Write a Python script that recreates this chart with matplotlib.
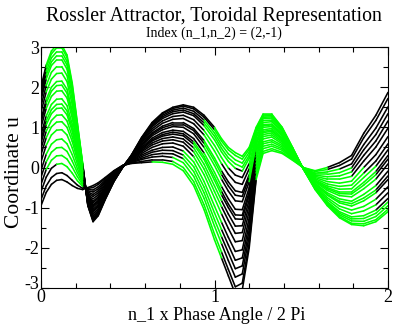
import numpy as np
import matplotlib
matplotlib.use('Agg')
import matplotlib.pyplot as plt
import matplotlib.transforms as mtransforms
from matplotlib.collections import LineCollection
from matplotlib.ticker import MultipleLocator

plt.rcParams['font.family'] = ['Liberation Serif', 'DejaVu Serif']
plt.rcParams['axes.unicode_minus'] = False

X_GRID = [0.00, 0.03, 0.06, 0.09, 0.12, 0.15, 0.18, 0.21, 0.24, 0.27,
          0.30, 0.33, 0.37, 0.42, 0.47, 0.52, 0.58, 0.64, 0.70, 0.76,
          0.82, 0.88, 0.94, 1.00, 1.04, 1.08, 1.12, 1.16, 1.20, 1.24,
          1.28, 1.33, 1.39, 1.45, 1.51, 1.58, 1.65, 1.72, 1.79, 1.86,
          1.93, 2.00]

# coordinate u of each traced loop, lowest left peak first
CURVE_00 = [-0.95, -0.62, -0.42, -0.32, -0.30, -0.36, -0.45, -0.52, -0.55, -0.50,
            -0.45, -0.38, -0.25, -0.08, 0.05, 0.10, 0.12, 0.14, 0.13, 0.08,
            -0.08, -0.45, -1.05, -1.80, -2.25, -2.70, -3.15, -3.05, -2.00, -0.30,
            0.35, 0.42, 0.35, 0.18, 0.00, -0.08, 0.00, 0.12, 0.30, 0.85,
            1.30, 1.87]
CURVE_01 = [-0.80, -0.46, -0.25, -0.15, -0.13, -0.20, -0.32, -0.44, -0.52, -0.52,
            -0.50, -0.42, -0.28, -0.09, 0.05, 0.11, 0.15, 0.19, 0.19, 0.15,
            0.00, -0.35, -0.93, -1.66, -2.10, -2.54, -2.97, -2.88, -1.88, -0.24,
            0.40, 0.47, 0.38, 0.20, 0.00, -0.10, -0.05, 0.05, 0.21, 0.74,
            1.17, 1.72]
CURVE_02 = [-0.60, -0.24, -0.02, 0.08, 0.10, 0.02, -0.14, -0.33, -0.47, -0.55,
            -0.56, -0.48, -0.32, -0.11, 0.04, 0.12, 0.20, 0.26, 0.28, 0.25,
            0.12, -0.22, -0.77, -1.46, -1.89, -2.32, -2.73, -2.65, -1.70, -0.14,
            0.47, 0.53, 0.43, 0.22, 0.00, -0.14, -0.11, -0.04, 0.09, 0.57,
            0.98, 1.51]
CURVE_03 = [-0.42, -0.05, 0.18, 0.29, 0.30, 0.21, 0.01, -0.23, -0.43, -0.58,
            -0.61, -0.53, -0.35, -0.13, 0.04, 0.14, 0.23, 0.32, 0.35, 0.34,
            0.22, -0.10, -0.63, -1.30, -1.72, -2.12, -2.52, -2.45, -1.55, -0.07,
            0.53, 0.58, 0.47, 0.24, 0.00, -0.17, -0.17, -0.13, -0.01, 0.44,
            0.82, 1.34]
CURVE_04 = [-0.24, 0.14, 0.38, 0.49, 0.50, 0.40, 0.16, -0.13, -0.39, -0.61,
            -0.67, -0.58, -0.38, -0.15, 0.04, 0.15, 0.27, 0.38, 0.43, 0.42,
            0.31, 0.02, -0.49, -1.13, -1.54, -1.93, -2.31, -2.25, -1.40, 0.01,
            0.59, 0.64, 0.51, 0.26, 0.00, -0.19, -0.23, -0.21, -0.11, 0.30,
            0.66, 1.16]
CURVE_05 = [-0.07, 0.33, 0.58, 0.69, 0.71, 0.59, 0.32, -0.03, -0.36, -0.64,
            -0.72, -0.63, -0.42, -0.16, 0.04, 0.16, 0.31, 0.43, 0.50, 0.51,
            0.41, 0.14, -0.35, -0.96, -1.36, -1.74, -2.09, -2.05, -1.25, 0.09,
            0.64, 0.69, 0.55, 0.28, -0.01, -0.22, -0.29, -0.29, -0.22, 0.16,
            0.51, 0.98]
CURVE_06 = [0.14, 0.55, 0.81, 0.93, 0.94, 0.81, 0.49, 0.08, -0.31, -0.67,
            -0.78, -0.68, -0.45, -0.18, 0.03, 0.17, 0.35, 0.50, 0.59, 0.61,
            0.53, 0.27, -0.18, -0.76, -1.15, -1.52, -1.85, -1.82, -1.08, 0.18,
            0.71, 0.76, 0.59, 0.30, -0.01, -0.25, -0.35, -0.39, -0.34, 0.00,
            0.32, 0.77]
CURVE_07 = [0.32, 0.74, 1.01, 1.13, 1.14, 1.00, 0.65, 0.18, -0.27, -0.69,
            -0.84, -0.73, -0.49, -0.20, 0.03, 0.19, 0.39, 0.56, 0.66, 0.69,
            0.63, 0.39, -0.04, -0.60, -0.97, -1.32, -1.64, -1.62, -0.93, 0.26,
            0.77, 0.81, 0.63, 0.32, -0.01, -0.28, -0.41, -0.47, -0.44, -0.14,
            0.16, 0.59]
CURVE_08 = [0.47, 0.90, 1.17, 1.30, 1.31, 1.16, 0.77, 0.26, -0.24, -0.72,
            -0.88, -0.77, -0.51, -0.21, 0.03, 0.20, 0.42, 0.61, 0.72, 0.76,
            0.71, 0.49, 0.08, -0.46, -0.82, -1.16, -1.46, -1.45, -0.80, 0.32,
            0.82, 0.86, 0.66, 0.33, -0.01, -0.31, -0.46, -0.54, -0.53, -0.25,
            0.03, 0.44]
CURVE_09 = [0.61, 1.06, 1.34, 1.47, 1.48, 1.31, 0.90, 0.34, -0.21, -0.74,
            -0.93, -0.82, -0.54, -0.22, 0.02, 0.21, 0.45, 0.66, 0.78, 0.83,
            0.79, 0.58, 0.20, -0.32, -0.68, -1.00, -1.28, -1.29, -0.68, 0.39,
            0.87, 0.90, 0.70, 0.35, -0.01, -0.33, -0.50, -0.61, -0.61, -0.37,
            -0.10, 0.30]
CURVE_10 = [0.70, 1.16, 1.44, 1.57, 1.58, 1.41, 0.98, 0.39, -0.19, -0.75,
            -0.95, -0.84, -0.56, -0.23, 0.02, 0.21, 0.47, 0.69, 0.82, 0.88,
            0.84, 0.64, 0.27, -0.23, -0.59, -0.91, -1.18, -1.19, -0.60, 0.43,
            0.90, 0.93, 0.71, 0.36, -0.01, -0.34, -0.53, -0.65, -0.66, -0.44,
            -0.18, 0.21]
CURVE_11 = [0.82, 1.28, 1.57, 1.70, 1.71, 1.54, 1.08, 0.45, -0.16, -0.77,
            -0.99, -0.87, -0.58, -0.24, 0.02, 0.22, 0.50, 0.73, 0.87, 0.93,
            0.90, 0.72, 0.36, -0.12, -0.47, -0.78, -1.04, -1.05, -0.50, 0.48,
            0.94, 0.97, 0.74, 0.37, -0.01, -0.36, -0.57, -0.70, -0.73, -0.53,
            -0.29, 0.09]
CURVE_12 = [1.00, 1.47, 1.77, 1.90, 1.91, 1.73, 1.23, 0.55, -0.12, -0.80,
            -1.04, -0.92, -0.61, -0.26, 0.02, 0.23, 0.54, 0.79, 0.94, 1.02,
            1.00, 0.84, 0.50, 0.05, -0.29, -0.59, -0.83, -0.85, -0.35, 0.56,
            1.00, 1.02, 0.78, 0.39, -0.01, -0.39, -0.63, -0.78, -0.84, -0.67,
            -0.45, -0.09]
CURVE_13 = [1.12, 1.60, 1.90, 2.04, 2.05, 1.85, 1.34, 0.61, -0.10, -0.82,
            -1.08, -0.95, -0.64, -0.27, 0.02, 0.24, 0.56, 0.83, 0.99, 1.07,
            1.07, 0.92, 0.60, 0.16, -0.17, -0.46, -0.69, -0.72, -0.25, 0.61,
            1.04, 1.06, 0.81, 0.40, -0.01, -0.41, -0.67, -0.84, -0.90, -0.76,
            -0.56, -0.21]
CURVE_14 = [1.20, 1.69, 2.00, 2.14, 2.15, 1.95, 1.41, 0.66, -0.08, -0.83,
            -1.11, -0.98, -0.65, -0.28, 0.01, 0.25, 0.58, 0.86, 1.03, 1.12,
            1.12, 0.97, 0.67, 0.24, -0.08, -0.36, -0.58, -0.62, -0.18, 0.65,
            1.07, 1.08, 0.82, 0.41, -0.01, -0.42, -0.69, -0.88, -0.96, -0.83,
            -0.63, -0.30]
CURVE_15 = [1.38, 1.88, 2.20, 2.34, 2.35, 2.14, 1.56, 0.76, -0.04, -0.86,
            -1.16, -1.03, -0.68, -0.29, 0.01, 0.26, 0.62, 0.91, 1.10, 1.20,
            1.22, 1.09, 0.81, 0.41, 0.10, -0.17, -0.37, -0.42, -0.03, 0.73,
            1.12, 1.14, 0.86, 0.43, -0.02, -0.45, -0.75, -0.96, -1.06, -0.97,
            -0.79, -0.48]
CURVE_16 = [1.53, 2.04, 2.37, 2.51, 2.51, 2.29, 1.69, 0.84, 0.00, -0.88,
            -1.21, -1.07, -0.71, -0.31, 0.01, 0.27, 0.65, 0.96, 1.16, 1.27,
            1.30, 1.19, 0.92, 0.55, 0.25, -0.01, -0.19, -0.25, 0.10, 0.79,
            1.17, 1.18, 0.90, 0.45, -0.02, -0.47, -0.80, -1.03, -1.15, -1.08,
            -0.93, -0.63]
CURVE_17 = [1.68, 2.20, 2.54, 2.68, 2.68, 2.45, 1.82, 0.92, 0.03, -0.90,
            -1.25, -1.11, -0.74, -0.32, 0.01, 0.28, 0.68, 1.01, 1.22, 1.34,
            1.38, 1.29, 1.04, 0.69, 0.39, 0.15, -0.02, -0.09, 0.23, 0.86,
            1.22, 1.23, 0.93, 0.47, -0.02, -0.50, -0.85, -1.10, -1.23, -1.20,
            -1.06, -0.77]
CURVE_18 = [1.76, 2.30, 2.63, 2.78, 2.78, 2.55, 1.90, 0.97, 0.05, -0.91,
            -1.28, -1.13, -0.76, -0.33, 0.00, 0.28, 0.70, 1.04, 1.26, 1.39,
            1.43, 1.34, 1.11, 0.78, 0.48, 0.24, 0.09, 0.01, 0.30, 0.90,
            1.25, 1.26, 0.95, 0.47, -0.02, -0.51, -0.87, -1.14, -1.28, -1.27,
            -1.14, -0.86]
CURVE_19 = [1.85, 2.39, 2.73, 2.88, 2.88, 2.64, 1.97, 1.02, 0.07, -0.93,
            -1.31, -1.16, -0.77, -0.34, 0.00, 0.29, 0.72, 1.07, 1.30, 1.43,
            1.48, 1.40, 1.18, 0.86, 0.57, 0.34, 0.19, 0.11, 0.38, 0.94,
            1.28, 1.29, 0.97, 0.48, -0.02, -0.53, -0.90, -1.18, -1.33, -1.34,
            -1.22, -0.95]
CURVE_20 = [1.94, 2.49, 2.83, 2.98, 2.98, 2.74, 2.05, 1.07, 0.09, -0.94,
            -1.33, -1.18, -0.79, -0.35, 0.00, 0.30, 0.74, 1.10, 1.34, 1.47,
            1.53, 1.46, 1.25, 0.94, 0.66, 0.44, 0.30, 0.21, 0.45, 0.97,
            1.31, 1.31, 0.99, 0.49, -0.02, -0.54, -0.93, -1.22, -1.39, -1.40,
            -1.30, -1.04]
CURVE_21 = [2.00, 2.55, 2.90, 3.05, 3.05, 2.80, 2.10, 1.10, 0.10, -0.95,
            -1.35, -1.20, -0.80, -0.35, 0.00, 0.30, 0.75, 1.12, 1.36, 1.50,
            1.56, 1.50, 1.30, 1.00, 0.72, 0.50, 0.37, 0.28, 0.50, 1.00,
            1.33, 1.33, 1.00, 0.50, -0.02, -0.55, -0.95, -1.25, -1.42, -1.45,
            -1.35, -1.10]

CURVES = [CURVE_00, CURVE_01, CURVE_02, CURVE_03, CURVE_04, CURVE_05, CURVE_06,
          CURVE_07, CURVE_08, CURVE_09, CURVE_10, CURVE_11, CURVE_12, CURVE_13,
          CURVE_14, CURVE_15, CURVE_16, CURVE_17, CURVE_18, CURVE_19, CURVE_20,
          CURVE_21]

GREEN = '#00ff00'
LINE_W = 1.15

# lower edge of the black hump before x = 1 (green below it)
HUMP_EDGE_X = [0.60, 0.82, 0.92, 0.975, 1.03]
HUMP_EDGE_Y = [0.12, 0.20, 0.55, 1.12, 1.60]


def segment_is_green(peak_a, xm, ym):
    """colour of a piece of loop, by where it sits in the (phase, u) plane"""
    if xm < 0.235:
        return peak_a > 0.05 and xm > 0.015 and (ym > 0.05 or xm > 0.1)
    if xm < 0.6:
        return False
    if xm < 1.03:
        return ym < np.interp(xm, HUMP_EDGE_X, HUMP_EDGE_Y)
    if xm < 1.25:
        return ym > 0.0
    if xm < 1.62:
        return True
    if ym > -0.05:
        return False
    if xm > 1.93 and ym > -1.0:
        return False
    return True


fig = plt.figure(figsize=(3.93, 3.24), dpi=100)
ax = fig.add_axes([41 / 393, 1 - 288 / 324, 347 / 393, 241 / 324])

x = np.array(X_GRID)
black_segs, green_segs = [], []
for curve in CURVES:
    y = np.array(curve)
    peak_a = y[:8].max()
    for i in range(len(x) - 1):
        seg = [(x[i], y[i]), (x[i + 1], y[i + 1])]
        xm = (x[i] + x[i + 1]) / 2
        ym = (y[i] + y[i + 1]) / 2
        if segment_is_green(peak_a, xm, ym):
            green_segs.append(seg)
        else:
            black_segs.append(seg)

ax.add_collection(LineCollection(black_segs, colors='black', linewidths=LINE_W,
                                 capstyle='round'))
ax.add_collection(LineCollection(green_segs, colors=GREEN, linewidths=LINE_W,
                                 capstyle='round'))

ax.set_xlim(0, 2)
ax.set_ylim(-3, 3)
ax.xaxis.set_major_locator(MultipleLocator(1))
ax.xaxis.set_minor_locator(MultipleLocator(0.2))
ax.yaxis.set_major_locator(MultipleLocator(1))
ax.yaxis.set_minor_locator(MultipleLocator(0.5))
ax.tick_params(which='both', direction='in', top=True, right=True,
               width=0.8, labelsize=13, pad=1)
ax.tick_params(which='major', length=6)
ax.tick_params(which='minor', length=3.5)
for sp in ax.spines.values():
    sp.set_linewidth(0.8)

# the "-3" label sits a little higher, next to the "0" below the corner
fig.canvas.draw()
for lab in ax.get_yticklabels():
    if lab.get_text() == '-3':
        lab.set_transform(lab.get_transform() +
                          mtransforms.ScaledTranslation(0, 4 / 72, fig.dpi_scale_trans))

ax.set_xlabel('n_1 x Phase Angle / 2 Pi', fontsize=13)
ax.xaxis.set_label_coords(0.507, -0.08)
ax.set_ylabel('Coordinate u', fontsize=15.5)
ax.yaxis.set_label_coords(-0.05, 0.48)

fig.text(0.545, 1 - 21 / 324, 'Rossler Attractor, Toroidal Representation',
         ha='center', va='baseline', fontsize=14.3)
fig.text(0.545, 1 - 37 / 324, 'Index (n_1,n_2) = (2,-1)',
         ha='center', va='baseline', fontsize=10)

fig.savefig('out.png', dpi=100)
